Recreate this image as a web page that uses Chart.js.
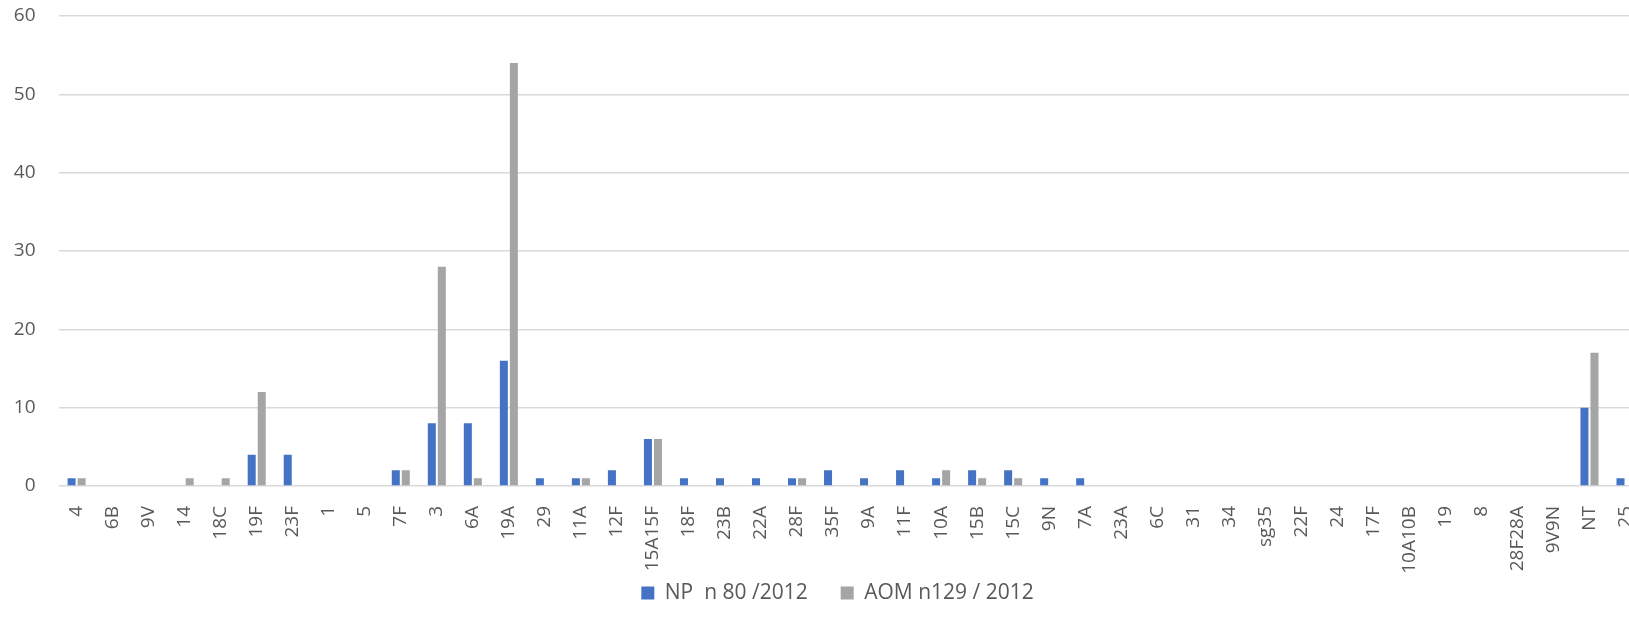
<!DOCTYPE html>
<html>
<head>
<meta charset="utf-8">
<script src="https://cdn.jsdelivr.net/npm/chart.js@4"></script>
<style>
  html, body { margin: 0; padding: 0; background: #ffffff; overflow: hidden; }
  #wrap { width: 1675px; height: 632px; }
</style>
</head>
<body>
<div id="wrap"><canvas id="serotypes__chart" width="1675" height="632"></canvas></div>
<script>
const SEROTYPES = [
  "4", "6B", "9V", "14", "18C", "19F", "23F", "1", "5", "7F", "3", "6A",
  "19A", "29", "11A", "12F", "15A15F", "18F", "23B", "22A", "28F", "35F",
  "9A", "11F", "10A", "15B", "15C", "9N", "7A", "23A", "6C", "31", "34",
  "sg35", "22F", "24", "17F", "10A10B", "19", "8", "28F28A", "9V9N", "NT", "25",
];
const NP_COUNTS = [
  1, 0, 0, 0, 0, 4, 4, 0, 0, 2, 8, 8,
  16, 1, 1, 2, 6, 1, 1, 1, 1, 2,
  1, 2, 1, 2, 2, 1, 1, 0, 0, 0, 0,
  0, 0, 0, 0, 0, 0, 0, 0, 0, 10, 1,
];
const AOM_COUNTS = [
  1, 0, 0, 1, 1, 12, 0, 0, 0, 2, 28, 1,
  54, 0, 1, 0, 6, 0, 0, 0, 1, 0,
  0, 0, 2, 1, 1, 0, 0, 0, 0, 0, 0,
  0, 0, 0, 0, 0, 0, 0, 0, 0, 17, 0,
];
const Y_TICKS = [0, 10, 20, 30, 40, 50, 60];

const TEXT_COLOR = "#595959";
const GRID_COLOR = "#d9d9d9";
const FONT = "'Open Sans', sans-serif";

const CHART = document.getElementById("serotypes__chart");

// pull the legend up so it overlaps the empty end of the label band
const legendLift = {
  id: "legendLift",
  afterLayout(chart) {
    chart.legend.top -= 26.5;
    chart.legend.bottom -= 26.5;
  },
};

new Chart(CHART, {
  type: "bar",
  data: {
    labels: SEROTYPES,
    datasets: [
      {
        label: "NP  n 80 /2012",
        data: NP_COUNTS,
        backgroundColor: "#4472C4",
        borderWidth: 0,
        categoryPercentage: 0.556,
        barPercentage: 0.8,
      },
      {
        label: "AOM n129 / 2012",
        data: AOM_COUNTS,
        backgroundColor: "#A5A5A5",
        borderWidth: 0,
        categoryPercentage: 0.556,
        barPercentage: 0.8,
      },
    ],
  },
  plugins: [legendLift],
  options: {
    responsive: false,
    animation: false,
    layout: {
      padding: { top: 16, right: 0, left: 0, bottom: -8 },
    },
    plugins: {
      tooltip: { enabled: false },
      legend: {
        position: "bottom",
        labels: {
          color: TEXT_COLOR,
          font: { family: FONT, size: 21 },
          boxWidth: 13,
          boxHeight: 13,
          padding: 33,
        },
      },
    },
    scales: {
      x: {
        grid: { display: false },
        border: { display: false },
        ticks: {
          autoSkip: false,
          maxRotation: 90,
          minRotation: 90,
          padding: 12,
          color: TEXT_COLOR,
          font: { family: FONT, size: 19 },
        },
        afterFit: (scale) => {
          scale.height = 90;
          scale.paddingLeft = 0;
          scale.paddingRight = 31.5;
        },
      },
      y: {
        min: 0,
        max: 60,
        afterBuildTicks: (scale) => {
          scale.ticks = Y_TICKS.map((v) => ({ value: v }));
        },
        grid: {
          color: GRID_COLOR,
          lineWidth: 1.5,
          drawTicks: false,
        },
        border: { display: false },
        ticks: {
          padding: 23,
          color: TEXT_COLOR,
          font: { family: FONT, size: 19 },
        },
        afterFit: (scale) => {
          scale.width = 58.6;
          scale.paddingTop = 0;
          scale.paddingBottom = 0;
        },
      },
    },
  },
});
</script>
</body>
</html>
